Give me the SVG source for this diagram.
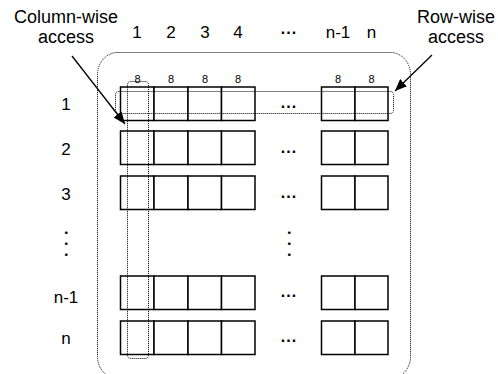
<svg xmlns="http://www.w3.org/2000/svg" width="498" height="374" viewBox="0 0 498 374">
  <style>
    text { font-family: "Liberation Sans", Arial, sans-serif; fill: #000; }
    .lbl { font-size: 17px; text-anchor: middle; }
    .note { font-size: 18px; text-anchor: middle; }
    .bits { font-size: 11px; text-anchor: middle; }
    .dots { font-size: 16px; font-weight: bold; text-anchor: middle; letter-spacing: 1px; }
    .vdots { font-size: 16px; font-weight: bold; text-anchor: middle; letter-spacing: 6.5px; }
    .cell { fill: #fff; stroke: #000; stroke-width: 1.5; }
    .dotted { fill: none; stroke: #000; stroke-width: 1; stroke-dasharray: 1 1; }
    .arrow { stroke: #000; stroke-width: 1.3; fill: none; marker-end: url(#head); }
  </style>
  <defs>
    <marker id="head" viewBox="0 0 12 10" refX="12" refY="5" markerWidth="12" markerHeight="10" markerUnits="userSpaceOnUse" orient="auto">
      <path d="M0,0 L12,5 L0,10 Z" fill="#000"/>
    </marker>
    <!-- one row of the array: four leading cells, then the last two -->
    <g id="row">
      <rect class="cell" x="120.5" y="0" width="33.5" height="33.5"/>
      <rect class="cell" x="154" y="0" width="34" height="33.5"/>
      <rect class="cell" x="188" y="0" width="33.5" height="33.5"/>
      <rect class="cell" x="221.5" y="0" width="33.5" height="33.5"/>
      <rect class="cell" x="321.5" y="0" width="33.5" height="33.5"/>
      <rect class="cell" x="355" y="0" width="33" height="33.5"/>
    </g>
  </defs>

  <!-- annotations -->
  <g id="label-column-wise">
    <text class="note" x="66" y="23">Column-wise</text>
    <text class="note" x="66" y="43">access</text>
  </g>
  <g id="label-row-wise">
    <text class="note" x="456" y="23">Row-wise</text>
    <text class="note" x="456" y="43">access</text>
  </g>

  <!-- column indices -->
  <g id="column-header">
    <text class="lbl" x="137" y="38">1</text>
    <text class="lbl" x="171" y="38">2</text>
    <text class="lbl" x="205" y="38">3</text>
    <text class="lbl" x="238" y="38">4</text>
    <text class="dots" x="289" y="34">...</text>
    <text class="lbl" x="338" y="38">n-1</text>
    <text class="lbl" x="371.5" y="38">n</text>
  </g>

  <!-- matrix boundary -->
  <g id="matrix">
    <rect class="dotted" x="97.5" y="52.5" width="313" height="326" rx="20" ry="22"/>
  </g>

  <!-- element widths -->
  <g id="bit-widths">
    <text class="bits" x="137.5" y="83">8</text>
    <text class="bits" x="171" y="83">8</text>
    <text class="bits" x="205" y="83">8</text>
    <text class="bits" x="238" y="83">8</text>
    <text class="bits" x="338" y="83">8</text>
    <text class="bits" x="371.5" y="83">8</text>
  </g>

  <!-- rows -->
  <g id="row-1">
    <text class="lbl" x="66" y="110">1</text>
    <use href="#row" y="87"/>
    <text class="dots" x="289" y="108">...</text>
  </g>
  <g id="row-2">
    <text class="lbl" x="66" y="155">2</text>
    <use href="#row" y="131"/>
    <text class="dots" x="289" y="153">...</text>
  </g>
  <g id="row-3">
    <text class="lbl" x="66" y="200">3</text>
    <use href="#row" y="176"/>
    <text class="dots" x="289" y="198">...</text>
  </g>
  <g id="row-gap">
    <text class="vdots" transform="translate(65,247) rotate(90)">...</text>
    <text class="vdots" transform="translate(288,247) rotate(90)">...</text>
  </g>
  <g id="row-n-1">
    <text class="lbl" x="66" y="303">n-1</text>
    <use href="#row" y="276"/>
    <text class="dots" x="289" y="297">...</text>
  </g>
  <g id="row-n">
    <text class="lbl" x="66" y="344">n</text>
    <use href="#row" y="321"/>
    <text class="dots" x="289" y="342">...</text>
  </g>

  <!-- access regions -->
  <g id="row-access">
    <rect class="dotted" x="115.5" y="91.5" width="278" height="22" rx="3"/>
  </g>
  <g id="column-access">
    <rect class="dotted" x="127.5" y="81.5" width="21" height="277" rx="3"/>
  </g>

  <!-- connectors -->
  <g id="connectors">
    <line class="arrow" x1="72" y1="56" x2="125" y2="124"/>
    <line class="arrow" x1="432" y1="55" x2="395" y2="91"/>
  </g>
</svg>
